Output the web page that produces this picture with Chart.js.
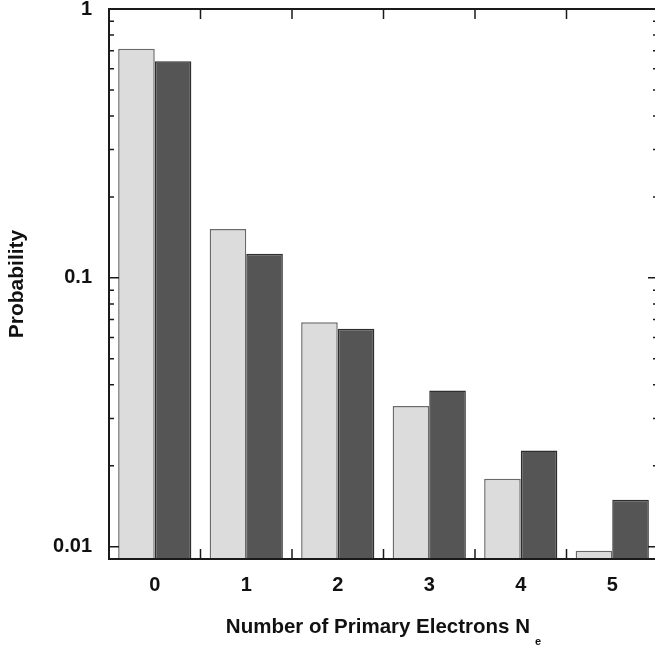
<!DOCTYPE html>
<html>
<head>
<meta charset="utf-8">
<script src="https://cdn.jsdelivr.net/npm/chart.js@4/dist/chart.umd.min.js"></script>
<style>
  html, body { margin: 0; padding: 0; background: #fff; overflow: hidden; }
  #wrap { width: 660px; height: 649px; }
</style>
</head>
<body>
<div id="wrap"><canvas id="c" width="660" height="649"></canvas></div>
<script>
// ---- data ----
const categories = ['0', '1', '2', '3', '4', '5'];
const seriesLight = [0.711, 0.152, 0.0683, 0.0334, 0.0179, 0.00966];
const seriesDark  = [0.639, 0.123, 0.0647, 0.0381, 0.0228, 0.01495];
const yMajorTicks = [0.01, 0.1, 1];
const yMin = 0.009;
const yMax = 1;
const xTitleMain = 'Number of Primary Electrons N';
const xTitleSub = 'e';
const yTitle = 'Probability';

const FONT = "'Liberation Sans', Arial, Helvetica, sans-serif";

const framePlugin = {
  id: 'frame',
  afterDraw(chart) {
    const { ctx, chartArea: a, scales: { x, y } } = chart;
    ctx.save();
    ctx.strokeStyle = '#1a1a1a';
    ctx.lineWidth = 1.5;
    ctx.beginPath();
    // y ticks (major + minor), inward on left and right
    for (let d = 0; d < yMajorTicks.length; d++) {
      const dec = yMajorTicks[d];
      for (let m = 1; m <= 9; m++) {
        const v = dec * m;
        if (v > yMax + 1e-9 || v < yMin) continue;
        const py = y.getPixelForValue(v);
        const len = m === 1 ? 10 : 5;
        ctx.moveTo(a.left, py); ctx.lineTo(a.left + len, py);
        ctx.moveTo(a.right, py); ctx.lineTo(a.right - len, py);
      }
    }
    // x ticks at category boundaries, inward on bottom and top
    for (let i = 0; i < categories.length - 1; i++) {
      const px = (x.getPixelForValue(i) + x.getPixelForValue(i + 1)) / 2;
      ctx.moveTo(px, a.bottom); ctx.lineTo(px, a.bottom - 10);
      ctx.moveTo(px, a.top); ctx.lineTo(px, a.top + 10);
    }
    ctx.stroke();
    ctx.lineWidth = 2;
    ctx.strokeRect(a.left, a.top, a.right - a.left, a.bottom - a.top);

    // x-axis title with subscript
    ctx.fillStyle = '#111';
    ctx.textBaseline = 'alphabetic';
    ctx.font = 'bold 20.5px ' + FONT;
    const wMain = ctx.measureText(xTitleMain).width;
    ctx.font = 'bold 11px ' + FONT;
    const wSub = ctx.measureText(xTitleSub).width;
    const gap = 5;
    const total = wMain + gap + wSub;
    const cx = (a.left + a.right) / 2;
    const x0 = cx - total / 2;
    ctx.font = 'bold 20.5px ' + FONT;
    ctx.textAlign = 'left';
    ctx.fillText(xTitleMain, x0, 633);
    ctx.font = 'bold 11px ' + FONT;
    ctx.fillText(xTitleSub, x0 + wMain + gap, 645);
    ctx.restore();
  }
};

new Chart(document.getElementById('c'), {
  type: 'bar',
  data: {
    labels: categories,
    datasets: [
      {
        data: seriesLight,
        backgroundColor: '#dcdcdc',
        borderColor: '#6a6a6a',
        borderWidth: 1.5,
        categoryPercentage: 0.8,
        barPercentage: 1.0
      },
      {
        data: seriesDark,
        backgroundColor: '#555555',
        borderColor: '#2e2e2e',
        borderWidth: 1.5,
        categoryPercentage: 0.8,
        barPercentage: 1.0
      }
    ]
  },
  options: {
    responsive: false,
    animation: false,
    layout: { padding: { top: 9, right: 2, left: 0, bottom: 0 } },
    plugins: { legend: { display: false }, tooltip: { enabled: false } },
    scales: {
      x: {
        type: 'category',
        offset: true,
        grid: { display: false, drawTicks: false },
        border: { display: false },
        ticks: { color: '#111', padding: 14, font: { family: FONT, size: 20, weight: 'bold' } },
        afterFit(s) { s.height = 90; s.paddingLeft = 0; s.paddingRight = 0; }
      },
      y: {
        type: 'logarithmic',
        min: yMin,
        max: yMax,
        grid: { display: false, drawTicks: false },
        border: { display: false },
        afterBuildTicks(s) { s.ticks = yMajorTicks.map(v => ({ value: v })); },
        ticks: {
          color: '#111',
          padding: 17,
          font: { family: FONT, size: 20, weight: 'bold' },
          callback: (v) => String(v)
        },
        title: {
          display: true,
          text: yTitle,
          color: '#111',
          padding: { top: 5, bottom: 0 },
          font: { family: FONT, size: 21, weight: 'bold' }
        },
        afterFit(s) { s.width = 109; s.paddingTop = 0; s.paddingBottom = 0; }
      }
    }
  },
  plugins: [framePlugin]
});
</script>
</body>
</html>
